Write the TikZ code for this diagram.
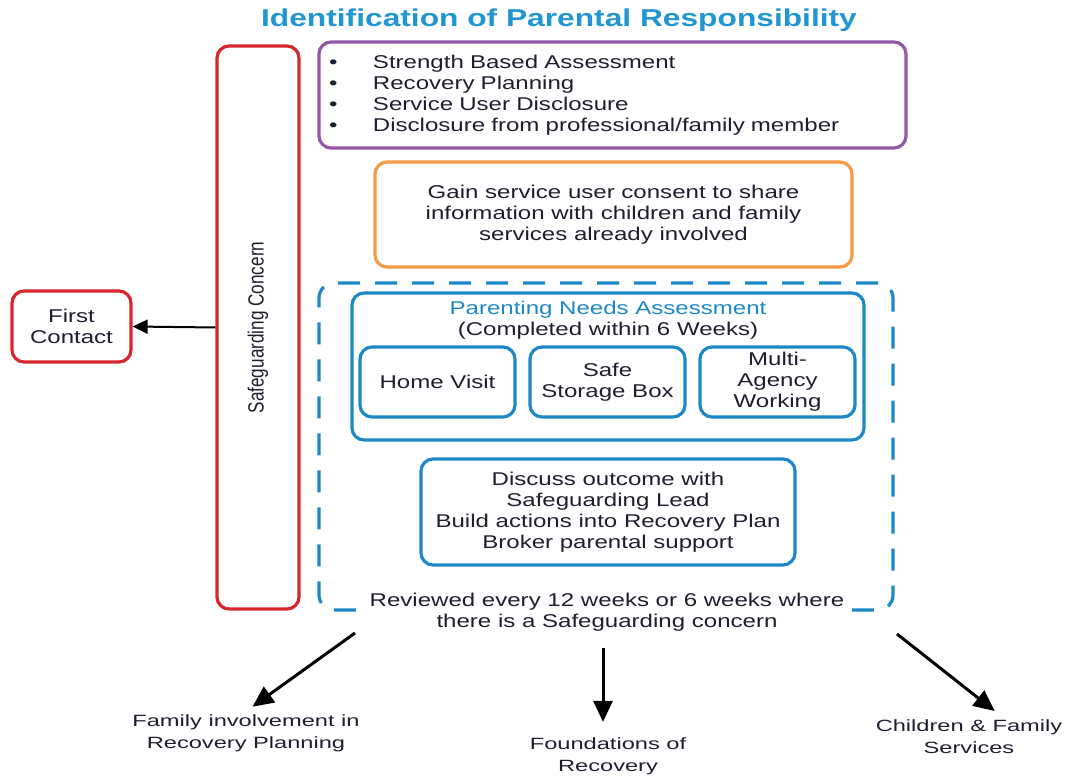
\documentclass[tikz,border=0pt]{standalone}
\usepackage{fontspec}
\setmainfont{Liberation Sans}[FakeStretch=1.3]
\newfontfamily\tallfont{Liberation Sans}[FakeStretch=0.78]
\newfontfamily\widefont{Liberation Sans}[FakeStretch=1.45]
\usetikzlibrary{arrows.meta}
\definecolor{titleblue}{HTML}{2196D3}
\definecolor{boxblue}{HTML}{1C88C8}
\definecolor{concernred}{HTML}{D8262E}
\definecolor{triggerpurple}{HTML}{9456A8}
\definecolor{consentorange}{HTML}{F59A45}
\definecolor{ink}{HTML}{1E1E2E}
\newcommand{\boxLine}[0]{3.2pt}
\newcommand{\bodyFont}[0]{\fontsize{18.5}{21}\selectfont}
\newcommand{\titleFont}[0]{\bfseries\fontsize{24.4}{28}\selectfont}
\newcommand{\concernFont}[0]{\tallfont\fontsize{22}{24}\selectfont}
\newcommand{\outcomeFont}[0]{\widefont\fontsize{16.3}{22}\selectfont}
\newcommand{\bulletItem}[1]{\makebox[44pt][l]{\textbullet}#1}

\begin{document}
\begin{tikzpicture}[x=1pt, y=-1pt]
  \tikzset{
    box/.style={draw, line width=\boxLine, rounded corners=12pt, inner sep=0pt,
      align=center, text=ink, font=\bodyFont},
    concernbox/.style={box, draw=concernred},
    triggerbox/.style={box, draw=triggerpurple},
    consentbox/.style={box, draw=consentorange},
    assessbox/.style={box, draw=boxblue},
    reviewbox/.style={draw=boxblue, line width=\boxLine, rounded corners=15pt,
      dash pattern=on 22pt off 15pt},
    outcome/.style={align=center, text=ink, font=\outcomeFont},
    bigarrow/.style={line width=3pt, -{Triangle[length=21pt,width=19pt]}}
  }
  \useasboundingbox (0,0) rectangle (1068,778);
  \node[font=\titleFont, text=titleblue] (title) at (559,20)
    {Identification of Parental Responsibility};
  \node[concernbox, minimum width=82pt, minimum height=563pt] (concern) at (258,327.5) {};
  \node[rotate=90, text=ink, font=\concernFont] (concernlabel) at (concern.center)
    {Safeguarding Concern};
  \node[concernbox, minimum width=119pt, minimum height=71pt] (first) at (71.5,326.5)
    {First\\Contact};
  \draw[line width=2pt, -{Triangle[length=15pt,width=14pt]}] (concern.west) -- (first.east);
  \node[triggerbox, minimum width=587pt, minimum height=106pt, text width=567pt, align=left]
    (triggers) at (612.5,95)
    {\bulletItem{Strength Based Assessment}\\
     \bulletItem{Recovery Planning}\\
     \bulletItem{Service User Disclosure}\\
     \bulletItem{Disclosure from professional/family member}};
  \node[consentbox, minimum width=477pt, minimum height=105pt] (consent) at (613.5,214.5)
    {Gain service user consent to share\\information with children and family\\services already involved};
  \node[reviewbox, minimum width=574pt, minimum height=327pt] (review) at (606,446.5) {};
  \node[assessbox, minimum width=512pt, minimum height=147pt] (pna) at (608,366.5) {};
  \node[align=center, text=boxblue, font=\bodyFont] (pnatitle) at (608,320)
    {Parenting Needs Assessment\\\textcolor{ink}{(Completed within 6 Weeks)}};
  \node[assessbox, minimum width=155pt, minimum height=70pt] (visit) at (437.5,382) {Home Visit};
  \node[assessbox, minimum width=155pt, minimum height=70pt] (storage) at (607.5,382) {Safe\\Storage Box};
  \node[assessbox, minimum width=155pt, minimum height=70pt] (agency) at (777.5,382) {Multi-\\Agency\\Working};
  \node[assessbox, minimum width=374pt, minimum height=106pt] (discuss) at (608,512)
    {Discuss outcome with\\Safeguarding Lead\\Build actions into Recovery Plan\\Broker parental support};
  \node[box, draw=none, fill=white, inner sep=4pt] (reviewnote) at (607,612)
    {Reviewed every 12 weeks or 6 weeks where\\there is a Safeguarding concern};
  \coordinate (leftout) at (355,633);
  \coordinate (midout) at (603,648);
  \coordinate (rightout) at (897,634);
  \node[outcome] (family) at (246,733.5) {Family involvement in\\Recovery Planning};
  \node[outcome] (foundations) at (608,756) {Foundations of\\Recovery};
  \node[outcome] (services) at (969,736.5) {Children \& Family\\Services};
  \draw[bigarrow, shorten >=8pt] (leftout) -- (family.north);
  \draw[bigarrow, shorten >=12pt] (midout) -- (midout |- foundations.north);
  \draw[bigarrow, shorten >=8pt] (rightout) -- ([xshift=32pt]services.north);
\end{tikzpicture}
\end{document}
